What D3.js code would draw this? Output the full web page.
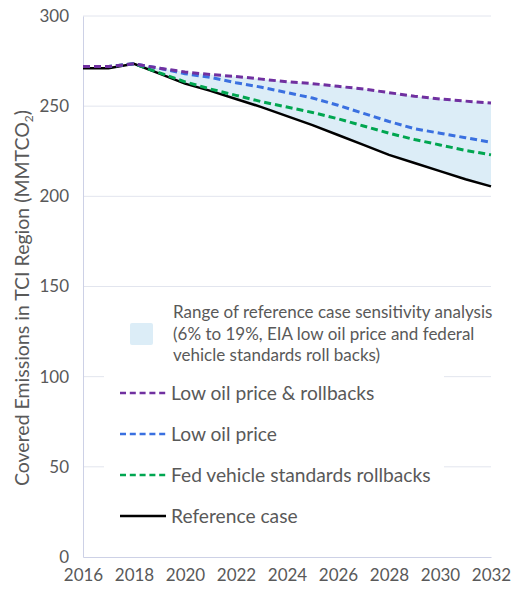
<!DOCTYPE html>
<html>
<head>
<meta charset="utf-8">
<script src="https://cdn.jsdelivr.net/npm/d3@7"></script>
<style>
  body { margin: 0; background: #fff; }
  svg { font-family: Lato, "Open Sans", sans-serif; }
</style>
</head>
<body>
<div id="chart"></div>
<script>
const years = d3.range(2016, 2033);
const referenceCase = [271, 271, 273.5, 268, 262.5, 258.5, 254, 249.5, 244.5, 239.5, 234, 228.5, 223, 218.5, 214, 209.5, 205.5];
const fedRollbacks = [272, 272, 273.5, 268.5, 263.5, 259.5, 256, 252.5, 249.5, 246.5, 243, 239, 235, 231.5, 228.5, 225.5, 223];
const lowOilPrice = [272, 272, 273.5, 271, 268, 266, 263, 260.5, 257.5, 254.5, 250.5, 246, 241.5, 237.5, 235, 232.5, 230];
const lowOilAndRollbacks = [272, 272, 273.5, 271, 269, 267.5, 266.5, 265, 263.5, 262.5, 261, 259.5, 257.5, 255.5, 254, 252.8, 251.7];
const yTicks = [0, 50, 100, 150, 200, 250, 300];
const xTicks = d3.range(2016, 2033, 2);
const rangeLabel = ['Range of reference case sensitivity analysis', '(6% to 19%, EIA low oil price and federal', 'vehicle standards roll backs)'];

const width = 519, height = 589;
const margin = { top: 16, right: 28, bottom: 32, left: 83 };

const svg = d3.select('#chart').append('svg')
    .attr('width', width)
    .attr('height', height);

const x = d3.scaleLinear()
    .domain([2016, 2032])
    .range([margin.left, width - margin.right]);
const y = d3.scaleLinear()
    .domain([0, 300])
    .range([height - margin.bottom, margin.top]);

// gridlines
svg.append('g')
    .selectAll('line')
    .data(yTicks.filter(d => d > 0))
    .join('line')
    .attr('x1', x(2016))
    .attr('x2', x(2032))
    .attr('y1', d => y(d))
    .attr('y2', d => y(d))
    .attr('stroke', '#e2e5ee')
    .attr('stroke-width', 1);

// axes
const yAxis = svg.append('g')
    .attr('transform', `translate(${margin.left},0)`)
    .call(d3.axisLeft(y).tickValues(yTicks).tickSize(0).tickPadding(14));
const xAxis = svg.append('g')
    .attr('transform', `translate(0,${y(0)})`)
    .call(d3.axisBottom(x).tickValues(xTicks).tickFormat(d3.format('d')).tickSize(0).tickPadding(12));
[yAxis, xAxis].forEach(a => {
    a.select('.domain').attr('stroke', '#cdd1e6');
    a.selectAll('text')
        .attr('fill', '#595959')
        .attr('font-size', 17)
        .attr('font-family', 'Lato, sans-serif');
});

// y axis title, with subscript 2
const title = svg.append('text')
    .attr('transform', `translate(29,298) rotate(-90)`)
    .attr('text-anchor', 'middle')
    .attr('fill', '#595959')
    .attr('font-size', 19.5)
    .text('Covered Emissions in TCI Region (MMTCO');
title.append('tspan').attr('font-size', 12).attr('dy', 4).text('2');
title.append('tspan').attr('dy', -4).text(')');

// shaded range between reference and the upper sensitivity case
const rangeIdx = d3.range(2, years.length);
const area = d3.area()
    .x(i => x(years[i]))
    .y0(i => y(referenceCase[i]))
    .y1(i => y(lowOilAndRollbacks[i]));
svg.append('path')
    .datum(rangeIdx)
    .attr('d', area)
    .attr('fill', '#dcedf7');

// legend background
svg.append('rect')
    .attr('x', 104)
    .attr('y', 296)
    .attr('width', 340)
    .attr('height', 236)
    .attr('fill', '#fff');

const series = [
    { name: 'Low oil price & rollbacks', values: lowOilAndRollbacks, color: '#7030a0', dash: '7,4' },
    { name: 'Low oil price', values: lowOilPrice, color: '#3a70e0', dash: '7,4' },
    { name: 'Fed vehicle standards rollbacks', values: fedRollbacks, color: '#00a650', dash: '7,4' },
    { name: 'Reference case', values: referenceCase, color: '#000000', dash: null }
];

const line = d3.line()
    .x((d, i) => x(years[i]))
    .y(d => y(d));

svg.append('g')
    .selectAll('path')
    .data(series.slice().reverse())
    .join('path')
    .attr('d', d => line(d.values))
    .attr('fill', 'none')
    .attr('stroke', d => d.color)
    .attr('stroke-width', d => d.dash ? 3 : 2.5)
    .attr('stroke-dasharray', d => d.dash);

// legend: range swatch + text
svg.append('rect')
    .attr('x', 130)
    .attr('y', 323)
    .attr('width', 23)
    .attr('height', 22)
    .attr('rx', 2)
    .attr('fill', '#dcedf7');
svg.append('g')
    .selectAll('text')
    .data(rangeLabel)
    .join('text')
    .attr('x', 173)
    .attr('y', (d, i) => 318 + i * 21.5)
    .attr('fill', '#595959')
    .attr('font-size', 17)
    .text(d => d);

// legend: lines
const legend = svg.append('g')
    .selectAll('g')
    .data(series)
    .join('g')
    .attr('transform', (d, i) => `translate(0,${393 + i * 41})`);
legend.append('line')
    .attr('x1', 120)
    .attr('x2', 166)
    .attr('stroke', d => d.color)
    .attr('stroke-width', 2.5)
    .attr('stroke-dasharray', d => d.dash ? '6,3.8' : null);
legend.append('text')
    .attr('x', 171)
    .attr('y', 7)
    .attr('fill', '#595959')
    .attr('font-size', 19.2)
    .text(d => d.name);
</script>
</body>
</html>
